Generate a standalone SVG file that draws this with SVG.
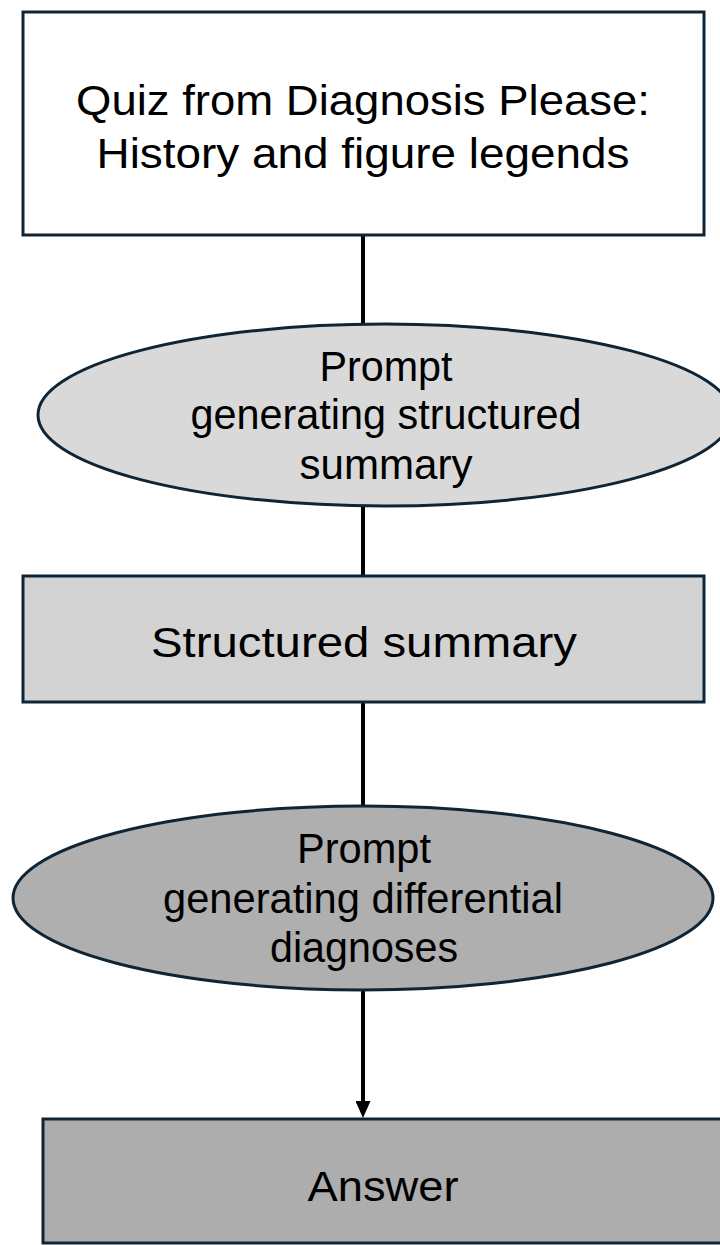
<svg xmlns="http://www.w3.org/2000/svg" width="720" height="1245" viewBox="0 0 720 1245">
<style>
.box{stroke:#0f2535;stroke-width:3}
.t{font-family:"Liberation Sans",Arial,sans-serif;font-size:42px;fill:#000;text-anchor:middle}
.c{stroke:#000;stroke-width:4;fill:none}
</style>
<defs>
<marker id="ah" viewBox="0 0 17 15" markerWidth="17" markerHeight="15" refX="5" refY="7.5" orient="auto" markerUnits="userSpaceOnUse">
<path d="M0,0 L17,7.5 L0,15 Z" fill="#000"/>
</marker>
</defs>
<rect width="720" height="1245" fill="#fff"/>
<g id="connectors">
<line class="c" x1="363" y1="235" x2="363" y2="324"/>
<line class="c" x1="363" y1="507" x2="363" y2="576"/>
<line class="c" x1="363" y1="702" x2="363" y2="806"/>
<line class="c" x1="363" y1="990" x2="363" y2="1106" marker-end="url(#ah)"/>
</g>
<g id="n1">
<rect class="box" x="23" y="12" width="681" height="223" fill="#fff"/>
<text class="t" x="363" y="115" textLength="574" lengthAdjust="spacingAndGlyphs">Quiz from Diagnosis Please:</text>
<text class="t" x="363" y="168" textLength="533" lengthAdjust="spacingAndGlyphs">History and figure legends</text>
</g>
<g id="n2">
<ellipse class="box" cx="385" cy="415" rx="347" ry="91" fill="#d9d9d9"/>
<text class="t" x="386" y="381" textLength="133" lengthAdjust="spacingAndGlyphs">Prompt</text>
<text class="t" x="386" y="429" textLength="391" lengthAdjust="spacingAndGlyphs">generating structured</text>
<text class="t" x="386" y="479" textLength="173" lengthAdjust="spacingAndGlyphs">summary</text>
</g>
<g id="n3">
<rect class="box" x="23" y="576" width="681" height="126" fill="#d3d3d3"/>
<text class="t" x="364" y="657" textLength="426" lengthAdjust="spacingAndGlyphs">Structured summary</text>
</g>
<g id="n4">
<ellipse class="box" cx="363" cy="898" rx="350" ry="92" fill="#afafaf"/>
<text class="t" x="364" y="863" textLength="134" lengthAdjust="spacingAndGlyphs">Prompt</text>
<text class="t" x="363" y="913" textLength="400" lengthAdjust="spacingAndGlyphs">generating differential</text>
<text class="t" x="364" y="962" textLength="188" lengthAdjust="spacingAndGlyphs">diagnoses</text>
</g>
<g id="n5">
<rect class="box" x="43" y="1119" width="682" height="124" fill="#adadad"/>
<text class="t" x="383" y="1201" textLength="151" lengthAdjust="spacingAndGlyphs">Answer</text>
</g>
</svg>
